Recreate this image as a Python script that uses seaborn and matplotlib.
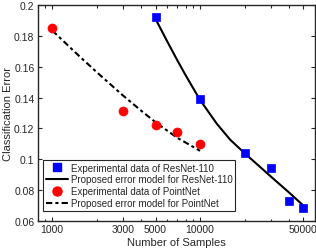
import matplotlib
matplotlib.use("Agg")
import matplotlib.pyplot as plt
import matplotlib.ticker as mticker
import seaborn as sns

# experimental points
resnet_n = [5000, 10000, 20000, 30000, 40000, 50000]
resnet_err = [0.192, 0.139, 0.104, 0.0946, 0.0728, 0.0686]
pointnet_n = [1000, 3000, 5000, 7000, 10000]
pointnet_err = [0.185, 0.1315, 0.122, 0.118, 0.110]

# proposed model curves
resnet_fit_n = [5000, 6000, 7000, 8000, 10000, 13000, 16000, 20000, 30000, 40000, 50000]
resnet_fit_err = [0.191, 0.1764, 0.1644, 0.1544, 0.1385, 0.123, 0.1127, 0.104, 0.089, 0.0785, 0.070]
pointnet_fit_n = [1000, 1500, 2000, 3000, 4000, 5000, 7000, 10000]
pointnet_fit_err = [0.1835, 0.1675, 0.1565, 0.1415, 0.1315, 0.124, 0.114, 0.1055]

sns.set_style("ticks")
plt.rcParams['font.family'] = ['Liberation Sans', 'DejaVu Sans']

fig = plt.figure(figsize=(3.16, 2.53), dpi=100)
ax = fig.add_axes([0.12, 0.1225, 0.877, 0.8535])

ax.set_xscale('log')

dash = (0, (3, 1.5, 1.5, 1.5))
sns.lineplot(x=resnet_fit_n, y=resnet_fit_err, color='black', lw=1.5, ax=ax, zorder=2)
sns.lineplot(x=pointnet_fit_n, y=pointnet_fit_err, color='black', lw=1.5, ax=ax, zorder=2)
ax.lines[1].set_linestyle(dash)

sns.scatterplot(x=resnet_n, y=resnet_err, marker='s', color='blue', s=30, edgecolor='blue',
                linewidth=0.5, ax=ax, zorder=3)
sns.scatterplot(x=pointnet_n, y=pointnet_err, marker='o', color='red', s=42, edgecolor='red',
                linewidth=0.5, ax=ax, zorder=3)

ax.set_xlim(800, 60000)
ax.set_ylim(0.06, 0.2)
ax.set_xticks([1000, 3000, 5000, 10000, 50000])
ax.xaxis.set_major_formatter(mticker.FuncFormatter(lambda v, p: '%d' % v))
ax.xaxis.set_minor_formatter(mticker.NullFormatter())
ax.set_yticks([0.06, 0.08, 0.1, 0.12, 0.14, 0.16, 0.18, 0.2])
ax.yaxis.set_major_formatter(mticker.FuncFormatter(lambda v, p: '%g' % round(v, 2)))

ax.tick_params(which='both', direction='in', top=True, right=True, labelsize=7.5,
               width=0.8, color='#262626', labelcolor='#262626', pad=2.5)
ax.tick_params(which='major', length=3)
ax.tick_params(which='minor', length=1.8)
for s in ax.spines.values():
    s.set_linewidth(1.0)
    s.set_color('#262626')

ax.set_xlabel('Number of Samples', fontsize=8, color='#262626', labelpad=2)
ax.set_ylabel('Classification Error', fontsize=8, color='#262626', labelpad=1)

handles = [
    plt.Line2D([], [], ls='none', marker='s', color='blue', ms=5.5),
    plt.Line2D([], [], color='black', lw=1.5),
    plt.Line2D([], [], ls='none', marker='o', color='red', ms=6.5),
    plt.Line2D([], [], color='black', lw=1.5, ls=dash),
]
labels = ['Experimental data of ResNet-110',
          'Proposed error model for ResNet-110',
          'Experimental data of PointNet',
          'Proposed error model for PointNet']
leg = ax.legend(handles, labels, loc='lower left', bbox_to_anchor=(0.02, 0.045),
                fontsize=7.0, frameon=True, fancybox=False, framealpha=1,
                edgecolor='#262626', borderpad=0.3, labelspacing=0.2,
                handlelength=2.2, handletextpad=0.3, borderaxespad=0)
leg.get_frame().set_linewidth(0.8)

fig.savefig('out.png', dpi=100)
